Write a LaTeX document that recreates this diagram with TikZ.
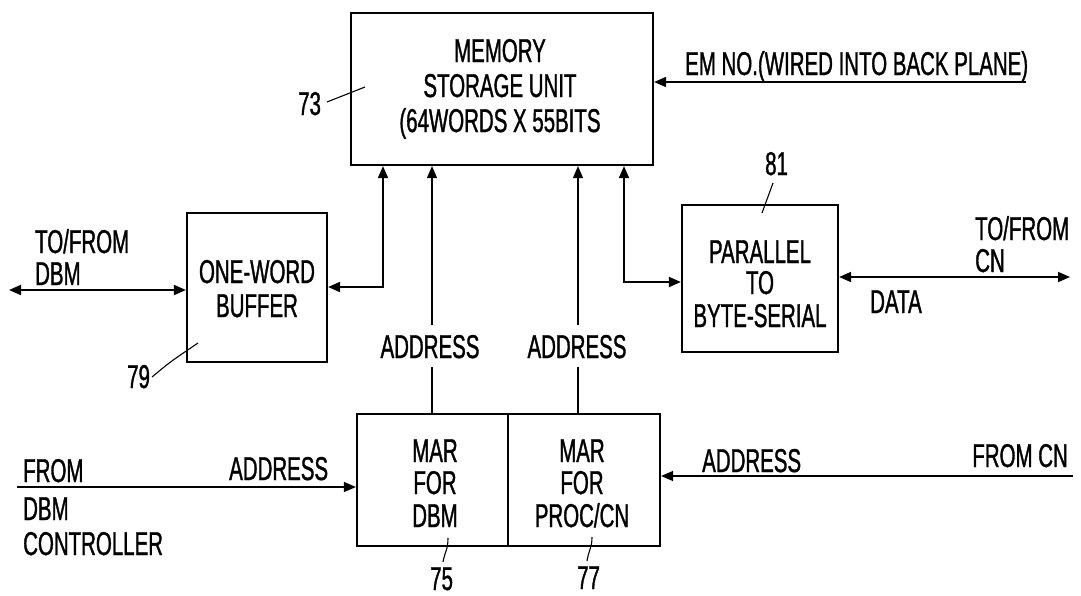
\documentclass[tikz,border=0pt]{standalone}
\usepackage{fontspec}
\newfontfamily\pf[FakeStretch=0.62,FakeBold=1]{Liberation Sans}
\usetikzlibrary{arrows.meta}
\begin{document}
\begin{tikzpicture}[x=1pt,y=-1pt,
  >={Triangle[length=12pt,width=10pt]},
  box/.style={draw,line width=2.2pt,inner sep=0pt},
  txt/.style={inner sep=0pt,font=\pf\fontsize{33}{35}\selectfont},
  data/.style={line width=1.8pt},
  addr/.style={line width=1.3pt},
  lead/.style={line width=1.1pt}]
\fill[white] (0,0) rectangle (1081,595);
\useasboundingbox (0,0) rectangle (1081,595);

% boxes
\node[box,minimum width=302pt,minimum height=152pt] (mem) at (502,89) {};
\node[box,minimum width=140pt,minimum height=149pt] (buf) at (257,287.5) {};
\node[box,minimum width=156pt,minimum height=147pt] (pts) at (760,278.5) {};
\node[box,minimum width=151pt,minimum height=132pt] (mar1) at (432.5,480) {};
\node[box,minimum width=152pt,minimum height=132pt] (mar2) at (584,480) {};

% box texts
\node[txt,anchor=base] (memA) at (500,62) {MEMORY};
\node[txt,anchor=base] (memB) at (500,97) {STORAGE UNIT};
\node[txt,anchor=base] (memC) at (500,132) {(64WORDS X 55BITS};
\node[txt,anchor=base] (bufA) at (257,283) {ONE-WORD};
\node[txt,anchor=base] (bufB) at (257,317) {BUFFER};
\node[txt,anchor=base] (ptsA) at (760,263) {PARALLEL};
\node[txt,anchor=base] (ptsB) at (760,294) {TO};
\node[txt,anchor=base] (ptsC) at (760,327) {BYTE-SERIAL};
\node[txt,anchor=base] (m1A) at (435,462) {MAR};
\node[txt,anchor=base] (m1B) at (435,494) {FOR};
\node[txt,anchor=base] (m1C) at (435,527) {DBM};
\node[txt,anchor=base] (m2A) at (582,462) {MAR};
\node[txt,anchor=base] (m2B) at (582,494) {FOR};
\node[txt,anchor=base] (m2C) at (582,527) {PROC/CN};

% other labels
\node[txt,anchor=base west] (emno) at (685,75) {EM NO.(WIRED INTO BACK PLANE)};
\node[txt,anchor=base west] (tfA) at (35,253) {TO/FROM};
\node[txt,anchor=base west] (tfB) at (35,285) {DBM};
\node[txt,anchor=base west] (tcA) at (975,240) {TO/FROM};
\node[txt,anchor=base west] (tcB) at (975,272) {CN};
\node[txt,anchor=base west] (datal) at (870,313) {DATA};
\node[txt,anchor=base] (ad1) at (430,358) {ADDRESS};
\node[txt,anchor=base] (ad2) at (577,358) {ADDRESS};
\node[txt,anchor=base west] (fromA) at (23,482) {FROM};
\node[txt,anchor=base west] (fromB) at (23,520) {DBM};
\node[txt,anchor=base west] (fromC) at (23,555) {CONTROLLER};
\node[txt,anchor=base west] (ad3) at (229,480) {ADDRESS};
\node[txt,anchor=base west] (ad4) at (702,472) {ADDRESS};
\node[txt,anchor=base east] (fromcn) at (1068,467) {FROM CN};
\node[txt,anchor=base west] (n73) at (298,115) {73};
\node[txt,anchor=base west] (n79) at (127,388) {79};
\node[txt,anchor=base west] (n81) at (765,175) {81};
\node[txt,anchor=base west] (n75) at (430,590) {75};
\node[txt,anchor=base west] (n77) at (577,589) {77};

% connectors
\coordinate (emend) at (1026,82);
\draw[data,->] (emend) -- (emend -| mem.east);
\coordinate (dbmL) at (9,290);
\draw[data,<->] (dbmL) -- (dbmL -| buf.west);
\coordinate (bufup) at (383,287);
\draw[data,<->] (bufup -| buf.east) -- (bufup) -- (bufup |- mem.south);
\coordinate (ptsup) at (624,282);
\draw[data,<->] (ptsup -| pts.west) -- (ptsup) -- (ptsup |- mem.south);
\coordinate (cnR) at (1070,277);
\draw[data,<->] (pts.east |- cnR) -- (cnR);

\coordinate (a1t) at (432,325);
\coordinate (a1b) at (432,367);
\draw[addr,->] (a1t) -- (a1t |- mem.south);
\draw[addr] (a1b) -- (a1b |- mar1.north);
\coordinate (a2t) at (578,325);
\coordinate (a2b) at (578,367);
\draw[addr,->] (a2t) -- (a2t |- mem.south);
\draw[addr] (a2b) -- (a2b |- mar2.north);

\coordinate (dbmc) at (17,487);
\draw[addr,->] (dbmc) -- (dbmc -| mar1.west);
\coordinate (cnc) at (1073,476);
\draw[addr,->] (cnc) -- (cnc -| mar2.east);

% leaders
\coordinate (l73a) at (327,102); \coordinate (l73b) at (365,87);
\draw[lead] (l73a) -- (l73b);
\coordinate (l79a) at (152,377); \coordinate (l79b) at (198,343);
\draw[lead] (l79a) .. controls (170,362) .. (l79b);
\coordinate (l81a) at (773,183); \coordinate (l81b) at (762,213);
\draw[lead] (l81a) -- (l81b);
\coordinate (l75a) at (443,562); \coordinate (l75b) at (448,538);
\draw[lead] (l75a) .. controls (445,551) and (448,550) .. (l75b);
\coordinate (l77a) at (587,561); \coordinate (l77b) at (592,537);
\draw[lead] (l77a) .. controls (589,549) and (592,548) .. (l77b);
\end{tikzpicture}
\end{document}
